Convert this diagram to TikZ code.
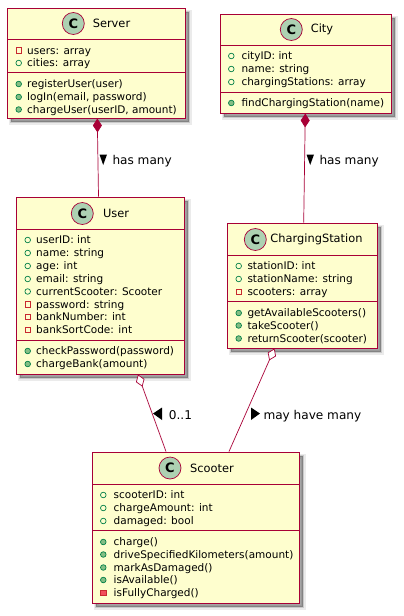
\documentclass[tikz,border=0pt]{standalone}
\usepackage{fontspec}
\setmainfont{DejaVu Sans}
\usetikzlibrary{arrows.meta}
\definecolor{umlred}{HTML}{A80036}
\definecolor{umlbg}{HTML}{FEFECE}
\definecolor{umlc}{HTML}{ADD1B2}
\definecolor{publine}{HTML}{038048}
\definecolor{pubfill}{HTML}{84BE84}
\definecolor{privline}{HTML}{C82930}
\definecolor{privfill}{HTML}{F24D5C}
\tikzset{
  x=1pt,y=-1pt,
  classbox/.style={draw=umlred,line width=.95pt,fill=umlbg,inner sep=0pt,
    preaction={draw=black,line width=5pt,opacity=.08,fill=none,transform canvas={shift={(4pt,-4pt)}}},
    preaction={draw=black,line width=2.5pt,opacity=.14,fill=none,transform canvas={shift={(4pt,-4pt)}}},
    preaction={fill=black,opacity=.35,transform canvas={shift={(4pt,-4pt)}}}},
  sep/.style={draw=umlred,line width=.75pt},
  spot/.style={circle,draw=umlred,line width=.7pt,fill=umlc,minimum size=22pt,inner sep=0pt,
    font=\fontsize{13}{13}\bfseries},
  cname/.style={font=\fontsize{11.4}{12}\selectfont,inner sep=0pt},
  member/.style={anchor=base west,font=\fontsize{10.5}{12}\selectfont,inner sep=0pt},
  rel/.style={draw=umlred,line width=.7pt},
  comp/.style={rel,{Diamond[length=14pt,width=9pt,fill=umlred]}-},
  aggr/.style={rel,{Diamond[length=13pt,width=9pt,open,fill=white]}-},
  rellabel/.style={anchor=base west,font=\fontsize{12.1}{13}\selectfont,inner sep=0pt},
  pubf/.style={circle,draw=publine,line width=.7pt,fill=none,minimum size=5.6pt,inner sep=0pt},
  pubm/.style={circle,draw=publine,line width=.7pt,fill=pubfill,minimum size=5.6pt,inner sep=0pt},
  prif/.style={rectangle,draw=privline,line width=.7pt,fill=none,minimum size=5.6pt,inner sep=0pt},
  prim/.style={rectangle,draw=privline,line width=.7pt,fill=privfill,minimum size=5.6pt,inner sep=0pt},
}
% \mem{name}{marker style}{marker x}{text x}{y centre}{text}
\newcommand{\mem}[6]{%
  \node[#2] (#1m) at (#3,#5) {};
  \node[member] (#1t) at (#4,#5+3.6) {#6};
}
\begin{document}
\begin{tikzpicture}
\useasboundingbox (0,0) rectangle (404,616);
% class boxes
\node[classbox,minimum width=178pt,minimum height=110pt] (server) at (96,63) {};
\node[classbox,minimum width=171pt,minimum height=99pt] (city) at (305.5,63.5) {};
\node[classbox,minimum width=168pt,minimum height=177pt] (user) at (100,285.5) {};
\node[classbox,minimum width=150pt,minimum height=125pt] (station) at (302,285.5) {};
\node[classbox,minimum width=207pt,minimum height=151pt] (scooter) at (195.5,527.5) {};
% compartments
\draw[sep] (7,39) -- (185,39) (7,72) -- (185,72);
\draw[sep] (220,45) -- (391,45) (220,92) -- (391,92);
\draw[sep] (16,229) -- (184,229) (16,340) -- (184,340);
\draw[sep] (227,255) -- (377,255) (227,301) -- (377,301);
\draw[sep] (92,484) -- (299,484) (92,530) -- (299,530);
% headers
\node[spot] (serverC) at (73.3,23.5) {C};
\node[cname] (serverN) at (111.5,23.5) {Server};
\node[spot] (cityC) at (291.3,29.5) {C};
\node[cname] (cityN) at (322,29.5) {City};
\node[spot] (userC) at (82.3,213.5) {C};
\node[cname] (userN) at (116,213.5) {User};
\node[spot] (stationC) at (255.3,239.5) {C};
\node[cname] (stationN) at (316.5,239.5) {ChargingStation};
\node[spot] (scooterC) at (170,468) {C};
\node[cname] (scooterN) at (212,468) {Scooter};
% Server
\mem{sa}{prif}{18.7}{27}{50.5}{users: array}
\mem{sb}{pubf}{18.7}{27}{63}{cities: array}
\mem{sc}{pubm}{18.7}{27}{84}{registerUser(user)}
\mem{sd}{pubm}{18.7}{27}{97}{logIn(email, password)}
\mem{se}{pubm}{18.7}{27}{109.5}{chargeUser(userID, amount)}
% City
\mem{ca}{pubf}{231.3}{241.3}{56}{cityID: int}
\mem{cb}{pubf}{231.3}{241.3}{69}{name: string}
\mem{cc}{pubf}{231.3}{241.3}{82}{chargingStations: array}
\mem{cd}{pubm}{231.3}{241.3}{103}{findChargingStation(name)}
% User
\mem{ua}{pubf}{27.7}{36}{240}{userID: int}
\mem{ub}{pubf}{27.7}{36}{253}{name: string}
\mem{uc}{pubf}{27.7}{36}{266}{age: int}
\mem{ud}{pubf}{27.7}{36}{279}{email: string}
\mem{ue}{pubf}{27.7}{36}{291.5}{currentScooter: Scooter}
\mem{uf}{prif}{27.7}{36}{304.5}{password: string}
\mem{ug}{prif}{27.7}{36}{317}{bankNumber: int}
\mem{uh}{prif}{27.7}{36}{330}{bankSortCode: int}
\mem{ui}{pubm}{27.7}{36}{351}{checkPassword(password)}
\mem{uj}{pubm}{27.7}{36}{364}{chargeBank(amount)}
% ChargingStation
\mem{ta}{pubf}{238.7}{247.3}{266}{stationID: int}
\mem{tb}{pubf}{238.7}{247.3}{279}{stationName: string}
\mem{tc}{prif}{238.7}{247.3}{292}{scooters: array}
\mem{td}{pubm}{238.7}{247.3}{313}{getAvailableScooters()}
\mem{te}{pubm}{238.7}{247.3}{325.5}{takeScooter()}
\mem{tf}{pubm}{238.7}{247.3}{338.5}{returnScooter(scooter)}
% Scooter
\mem{oa}{pubf}{103.3}{113.5}{495}{scooterID: int}
\mem{ob}{pubf}{103.3}{113.5}{508}{chargeAmount: int}
\mem{oc}{pubf}{103.3}{113.5}{521}{damaged: bool}
\mem{od}{pubm}{103.3}{113.5}{542}{charge()}
\mem{oe}{pubm}{103.3}{113.5}{554.5}{driveSpecifiedKilometers(amount)}
\mem{of}{pubm}{103.3}{113.5}{567.5}{markAsDamaged()}
\mem{og}{pubm}{103.3}{113.5}{580}{isAvailable()}
\mem{oh}{prim}{103.3}{113.5}{593}{isFullyCharged()}
% connectors
\draw[comp] ([xshift=1.3pt]server.south) -- ([xshift=-1.5pt]user.north);
\draw[comp] ([xshift=-.2pt]city.south) -- ([xshift=1.7pt]station.north);
\draw[aggr] ([xshift=38pt]user.south) -- ([xshift=-29.5pt]scooter.north);
\draw[aggr] ([xshift=-27.5pt]station.south) -- ([xshift=33.5pt]scooter.north);
% labels
\fill[black] (99.5,154.5) -- (107,154.5) -- (103.2,165) -- cycle;
\node[rellabel] (l1) at (112.3,164.5) {has many};
\fill[black] (306.5,154.5) -- (314,154.5) -- (310.2,165) -- cycle;
\node[rellabel] (l2) at (319.3,164.5) {has many};
\fill[black] (153,413.5) -- (162,407.5) -- (162,420) -- cycle;
\node[rellabel] (l3) at (168.7,419) {0..1};
\fill[black] (251,407.5) -- (260,413.5) -- (251,420) -- cycle;
\node[rellabel] (l4) at (263.3,419) {may have many};
\end{tikzpicture}
\end{document}
